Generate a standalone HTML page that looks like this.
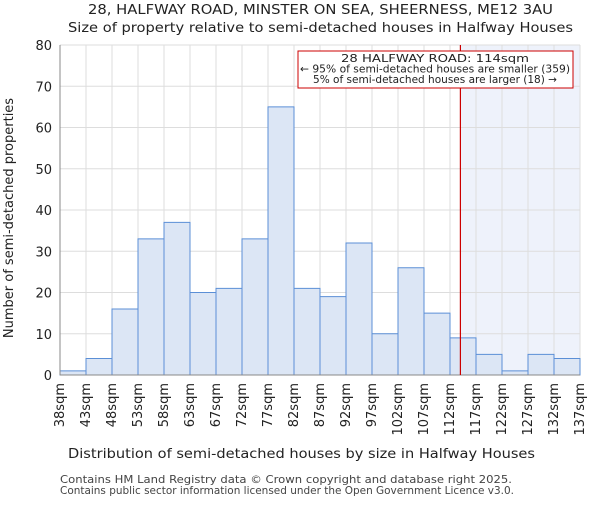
<!DOCTYPE html>
<html><head><meta charset="utf-8"><style>
body{margin:0;background:#fff}
svg{font-family:"DejaVu Sans","Liberation Sans",sans-serif}
</style></head><body>
<svg id="c" width="600" height="500" viewBox="0 0 600 500">
<text x="88" y="14" textLength="465" lengthAdjust="spacingAndGlyphs" font-size="13" fill="#222">28, HALFWAY ROAD, MINSTER ON SEA, SHEERNESS, ME12 3AU</text>
<text x="68" y="32" textLength="505" lengthAdjust="spacingAndGlyphs" font-size="13" fill="#222">Size of property relative to semi-detached houses in Halfway Houses</text>
<text x="68" y="458" textLength="467" lengthAdjust="spacingAndGlyphs" font-size="13" fill="#222">Distribution of semi-detached houses by size in Halfway Houses</text>
<text transform="translate(13,218) rotate(-90)" text-anchor="middle" font-size="13" fill="#222">Number of semi-detached properties</text>
<text x="60" y="483" textLength="452" lengthAdjust="spacingAndGlyphs" font-size="10.5" fill="#444">Contains HM Land Registry data © Crown copyright and database right 2025.</text>
<text x="60" y="494" textLength="454" lengthAdjust="spacingAndGlyphs" font-size="10.5" fill="#444">Contains public sector information licensed under the Open Government Licence v3.0.</text>
</svg>
<script>
const categories=["38sqm","43sqm","48sqm","53sqm","58sqm","63sqm","67sqm","72sqm","77sqm","82sqm","87sqm","92sqm","97sqm","102sqm","107sqm","112sqm","117sqm","122sqm","127sqm","132sqm","137sqm"];
const counts=[1,4,16,33,37,20,21,33,65,21,19,32,10,26,15,9,5,1,5,4];
const yTicks=[0,10,20,30,40,50,60,70,80];
const markerBin=15.4;
const NS="http://www.w3.org/2000/svg";
const svg=document.getElementById('c');
const L=60,R=580,T=45,B=375,yMax=80;
const bw=(R-L)/counts.length;
const x=i=>L+i*bw;
const y=v=>B-(v/yMax)*(B-T);
function mk(t,a){const e=document.createElementNS(NS,t);for(const k in a)e.setAttribute(k,a[k]);svg.appendChild(e);return e;}
const mx=x(markerBin);
let e=mk('rect',{x:mx,y:T,width:R-mx,height:B-T,fill:'#eef2fb'});


for(let i=0;i<categories.length;i++){e=mk('line',{x1:x(i),x2:x(i),y1:T,y2:B,stroke:'#ddd','stroke-width':1});

}
yTicks.forEach(v=>{e=mk('line',{x1:L,x2:R,y1:y(v),y2:y(v),stroke:'#ddd','stroke-width':1});


e=mk('text',{x:L-8,y:y(v)+5,'text-anchor':'end','font-size':13,fill:'#222'});e.textContent=v;

});
counts.forEach((v,i)=>{e=mk('rect',{x:x(i),y:y(v),width:bw,height:B-y(v),fill:'#dce6f5',stroke:'#5b8fd6','stroke-width':1});

});
categories.forEach((c,i)=>{const tx=x(i)+4;e=mk('text',{x:tx,y:383,'text-anchor':'end','font-size':13,fill:'#222',transform:`rotate(-90 ${tx} 383)`});e.textContent=c;

});
e=mk('line',{x1:L,x2:L,y1:T,y2:B,stroke:'#888'});


e=mk('line',{x1:L,x2:R,y1:B,y2:B,stroke:'#888'});


e=mk('line',{x1:mx,x2:mx,y1:T,y2:B,stroke:'#cc0000','stroke-width':1.2});


e=mk('rect',{x:298,y:51,width:275,height:37,fill:'#fff',stroke:'#cc0000','stroke-width':1});


const annLines=["28 HALFWAY ROAD: 114sqm","← 95% of semi-detached houses are smaller (359)","5% of semi-detached houses are larger (18) →"];
const annW=[188,270,244];
annLines.forEach((t,i)=>{e=mk('text',{x:435-annW[i]/2,y:62+i*10.5,'font-size':10.5,fill:'#222',textLength:annW[i],lengthAdjust:'spacingAndGlyphs'});e.textContent=t;

});
</script>
</body></html>
